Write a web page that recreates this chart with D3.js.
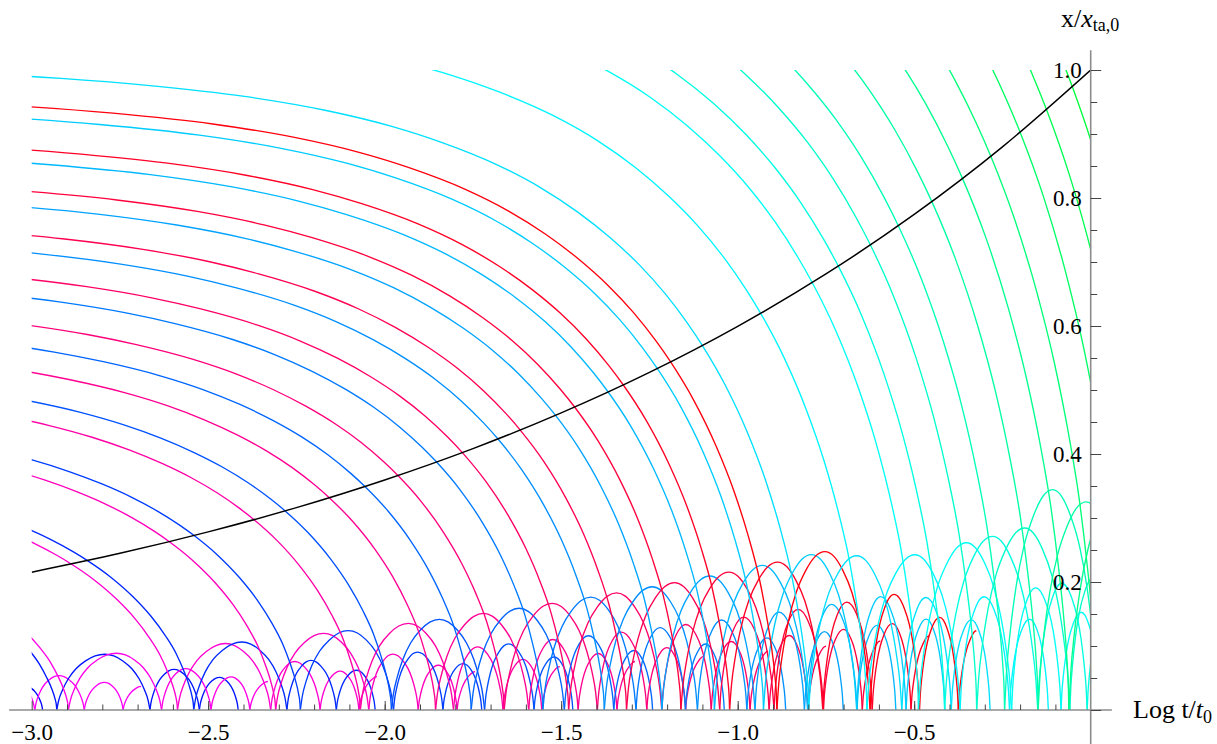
<!DOCTYPE html>
<html>
<head>
<meta charset="utf-8">
<script src="https://cdn.jsdelivr.net/npm/d3@7"></script>
<style>
  body { margin: 0; background: #fff; }
  svg { display: block; }
  text { font-family: "Liberation Serif", "Times New Roman", serif; fill: #000; }
</style>
</head>
<body>
<svg id="chart" width="1217" height="744"></svg>
<script>
// ---- shells: turnaround time (Log t/t0) and turnaround radius x/x_ta,0 ----
const pinkTurnT = [-3.556, -3.197, -2.888, -2.61, -2.37, -2.157, -1.9625, -1.78, -1.616, -1.462, -1.324, -1.19];
const pinkTurnX = [0.1621, 0.1949, 0.2282, 0.2630, 0.2973, 0.3317, 0.3664, 0.4022, 0.4374, 0.4734, 0.5078, 0.5439];
const pinkColors = ["#ff00f6", "#ff00e6", "#ff00d0", "#ff00bb", "#ff00a6", "#ff0091",
                    "#ff007b", "#ff0066", "#ff0051", "#ff003c", "#ff0026", "#ff000d"];

const blueTurnT = [-3.784, -3.23, -2.842, -2.54, -2.282, -2.056, -1.853, -1.679, -1.516, -1.367, -1.228, -1.10,
                   -0.935, -0.789, -0.715, -0.624, -0.545, -0.45, -0.363, -0.283, -0.2, -0.125, -0.052];
const blueTurnX = [0.1442, 0.1915, 0.2335, 0.2726, 0.3111, 0.3493, 0.3875, 0.4234, 0.4603, 0.4969, 0.5336, 0.5695,
                   0.6198, 0.6680, 0.6936, 0.7266, 0.7567, 0.7943, 0.8303, 0.8652, 0.9028, 0.9380, 0.9738];
// relative height of the bounces for the late shells
const blueBounceScale = [1, 1, 1, 1, 1, 1, 1, 1, 1, 1, 1, 0.93, 0.86, 0.86, 0.86, 0.86, 1, 0.9, 0.9, 0.9, 0.9, 0.9, 0.9];
const blueColors = ["#0000ff", "#0014ff", "#0029ff", "#003dff", "#0052ff", "#0066ff", "#007aff", "#008fff",
                    "#00a3ff", "#00b8ff", "#00ccff", "#00e0ff", "#00f5ff", "#00fff5", "#00ffe0", "#00ffcc",
                    "#00ffb8", "#00ffa3", "#00ff8f", "#00ff7a", "#00ff66", "#00ff52", "#00ff3d"];

// ---- shell path in units of its own turnaround (offset in Log t, radius / turnaround radius) ----
const fallDt = [-3.083, -2.846, -2.473, -1.817, -1.580, -1.297, -1.069, -0.880, -0.741, -0.580, -0.459, -0.354,
                -0.261, -0.178, -0.105, -0.041, 0, 0.066, 0.129, 0.180, 0.220, 0.251, 0.272, 0.287, 0.296, 0.300, 0.301];
const fallX = [1.765, 1.7625, 1.757, 1.733, 1.7145, 1.6834, 1.6455, 1.6012, 1.558, 1.495, 1.4334, 1.3668,
               1.2957, 1.2205, 1.1415, 1.0596, 1.0, 0.8889, 0.7578, 0.6271, 0.4995, 0.3785, 0.2678, 0.1711, 0.0925, 0.0362, 0];
// successive bounces after collapse
const bounceStart = [0.301, 0.565, 0.705, 0.815];
const bouncePeak = [0.437, 0.633, 0.762, 0.872];
const bounceEnd = [0.565, 0.705, 0.815, 0.930];
const bounceHeight = [0.455, 0.332, 0.266, 0.232];
// profile of one bounce (fraction of its duration, fraction of its height)
const archU = [0, 0.02, 0.06, 0.12, 0.2, 0.3, 0.4, 0.5, 0.6, 0.7, 0.8, 0.88, 0.94, 0.98, 1];
const archF = [0, 0.17, 0.36, 0.56, 0.74, 0.88, 0.97, 1, 0.97, 0.88, 0.74, 0.56, 0.36, 0.17, 0];
// last plotted time of each family (offset from turnaround)
const pinkEndDt = 0.866;
const blueEndDt = 0.815;

// ---- turnaround radius (black curve) ----
const taT = [-3, -2.75, -2.5, -2.25, -2, -1.75, -1.5, -1.25, -1, -0.75, -0.5, -0.25, 0];
const taX = [0.2154, 0.2448, 0.2783, 0.3162, 0.3594, 0.4084, 0.4642, 0.5275, 0.5995, 0.6813, 0.7743, 0.8799, 1.0];

// ---- ticks ----
const xMajorTicks = [-3, -2.5, -2, -1.5, -1, -0.5];
const yMajorTicks = [0.2, 0.4, 0.6, 0.8, 1.0];

const svg = d3.select("#chart");
const x = d3.scaleLinear().domain([-3, 0]).range([31.7, 1090.7]);
const y = d3.scaleLinear().domain([0, 1]).range([710, 70]);

svg.append("defs").append("clipPath").attr("id", "plotClip")
  .append("rect")
  .attr("x", x(-3)).attr("y", y(1))
  .attr("width", x(0) - x(-3)).attr("height", y(0) - y(1) + 1);

// one shell -> list of segments (infall, then each bounce)
function shellSegments(t0, r0, scale, endDt) {
  const segs = [fallDt.map((d, i) => [t0 + d, r0 * fallX[i]])];
  for (let k = 0; k < bounceStart.length; k++) {
    if (bounceStart[k] >= endDt - 1e-9) break;
    const pts = [];
    const h = r0 * scale * bounceHeight[k];
    const at = u => u <= 0.5
      ? bounceStart[k] + (bouncePeak[k] - bounceStart[k]) * u * 2
      : bouncePeak[k] + (bounceEnd[k] - bouncePeak[k]) * (u - 0.5) * 2;
    for (let j = 0; j < archU.length; j++) {
      const d = at(archU[j]);
      if (d > endDt + 1e-9) {
        const dPrev = at(archU[j - 1]);
        const f = archF[j - 1] + (archF[j] - archF[j - 1]) * (endDt - dPrev) / (d - dPrev);
        pts.push([t0 + endDt, h * f]);
        break;
      }
      pts.push([t0 + d, h * archF[j]]);
    }
    segs.push(pts);
  }
  return segs;
}

const shells = [];
pinkTurnT.forEach((t, i) => shells.push({ t, r: pinkTurnX[i], s: 1, end: pinkEndDt, color: pinkColors[i] }));
blueTurnT.forEach((t, i) => shells.push({ t, r: blueTurnX[i], s: blueBounceScale[i], end: blueEndDt, color: blueColors[i] }));
shells.sort((a, b) => a.t - b.t);

const line = d3.line().x(d => x(d[0])).y(d => y(d[1])).curve(d3.curveMonotoneX);

const plot = svg.append("g").attr("clip-path", "url(#plotClip)");
shells.forEach(sh => {
  const g = plot.append("g").attr("fill", "none").attr("stroke", sh.color)
    .attr("stroke-width", 1.35).attr("stroke-linejoin", "round");
  shellSegments(sh.t, sh.r, sh.s, sh.end).forEach(seg => {
    g.append("path").attr("d", line(seg));
  });
});

// turnaround radius
plot.append("path")
  .attr("d", line(taT.map((t, i) => [t, taX[i]])))
  .attr("fill", "none").attr("stroke", "#000").attr("stroke-width", 1.5);

// ---- axes ----
const axisColor = "#8c8c8c";
const tickColor = "#444";
const serif = "Liberation Serif, Times New Roman, serif";

// horizontal axis
svg.append("line")
  .attr("x1", x(-3.064)).attr("x2", x(0.06)).attr("y1", y(0)).attr("y2", y(0))
  .attr("stroke", axisColor).attr("stroke-width", 1.6);
const gxMinor = svg.append("g").attr("transform", `translate(0,${y(0)})`)
  .call(d3.axisBottom(x).tickValues(d3.range(-2.9, 0.0, 0.1)).tickSizeInner(-5.5).tickSizeOuter(0).tickFormat(""));
const gxMajor = svg.append("g").attr("transform", `translate(0,${y(0)})`)
  .call(d3.axisBottom(x).tickValues(xMajorTicks).tickSizeInner(-9).tickSizeOuter(0).tickPadding(14)
    .tickFormat(d3.format(".1f")));
[gxMinor, gxMajor].forEach(g => {
  g.attr("font-family", serif).attr("font-size", 23);
  g.select(".domain").remove();
  g.selectAll(".tick line").attr("stroke", tickColor).attr("stroke-width", 1);
});
gxMajor.selectAll(".tick text").attr("font-family", serif).attr("font-size", 23)
  .attr("fill", "#000").attr("dy", "0.71em");

// vertical axis at Log t/t0 = 0
svg.append("line")
  .attr("x1", x(0)).attr("x2", x(0)).attr("y1", y(1.031)).attr("y2", 744)
  .attr("stroke", axisColor).attr("stroke-width", 1.6);
const gyMinor = svg.append("g").attr("transform", `translate(${x(0)},0)`)
  .call(d3.axisLeft(y).tickValues(d3.range(0.05, 1.0, 0.05)).tickSizeInner(-6.5).tickSizeOuter(0).tickFormat(""));
const gyMajor = svg.append("g").attr("transform", `translate(${x(0)},0)`)
  .call(d3.axisLeft(y).tickValues([0].concat(yMajorTicks)).tickSizeInner(-10.5).tickSizeOuter(0).tickPadding(9)
    .tickFormat(d => d === 0 ? "" : d3.format(".1f")(d)));
[gyMinor, gyMajor].forEach(g => {
  g.attr("font-family", serif).attr("font-size", 23);
  g.select(".domain").remove();
  g.selectAll(".tick line").attr("stroke", tickColor).attr("stroke-width", 1);
});
gyMajor.selectAll(".tick text").attr("font-family", serif).attr("font-size", 23).attr("fill", "#000");

// axis titles
const xt = svg.append("text").attr("x", 1133).attr("y", 718).attr("font-size", 26);
xt.append("tspan").text("Log t/");
xt.append("tspan").attr("font-style", "italic").text("t");
xt.append("tspan").attr("font-size", 18).attr("dy", 5).text("0");

const yt = svg.append("text").attr("x", 1061).attr("y", 27).attr("font-size", 26);
yt.append("tspan").text("x/");
yt.append("tspan").attr("font-style", "italic").text("x");
yt.append("tspan").attr("font-size", 18).attr("dy", 4).text("ta,0");
</script>
</body>
</html>
